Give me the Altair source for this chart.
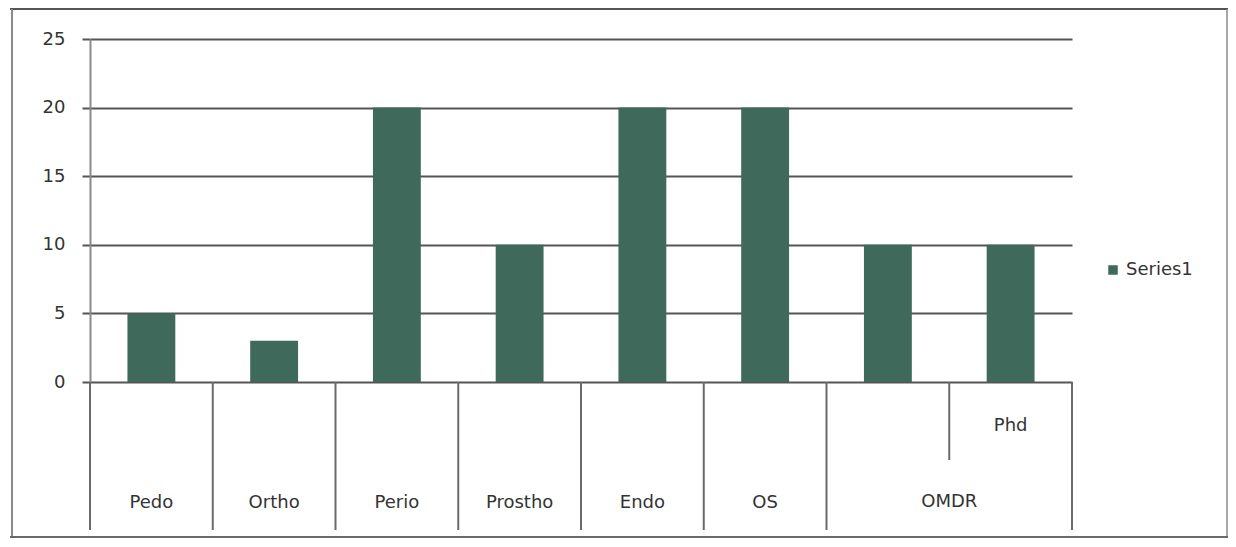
import altair as alt
import pandas as pd

# ---- data -----------------------------------------------------------------
categories = ["Pedo", "Ortho", "Perio", "Prostho", "Endo", "OS", "OMDR", "Phd"]
values = [5, 3, 20, 10, 20, 20, 10, 10]
series_name = "Series1"
inner_labels = ["Pedo", "Ortho", "Perio", "Prostho", "Endo", "OS", "", "Phd"]
group_label = "OMDR"
group_members = ["OMDR", "Phd"]
y_ticks = [0, 5, 10, 15, 20, 25]

df = pd.DataFrame({"cat": categories, "value": values, "series": [series_name] * len(categories)})

# ---- layout ---------------------------------------------------------------
W, H = 982, 343
FONT = "DejaVu Sans"
FS = 18
TXT = "#333333"
BAR = "#3f6a5b"
LINE = "#6a6a6a"
GRID = "#555555"

x_scale = alt.Scale(domain=categories, paddingInner=0, paddingOuter=0)

bars = alt.Chart(df).mark_bar(width=alt.RelativeBandSize(0.39)).encode(
    x=alt.X("cat:N", scale=x_scale, axis=None, sort=categories),
    y=alt.Y(
        "value:Q",
        scale=alt.Scale(domain=[0, 25], nice=False),
        axis=alt.Axis(
            values=y_ticks, title=None, grid=True, gridColor=GRID, gridWidth=2,
            tickColor=GRID, tickSize=8, tickWidth=2,
            domainColor="#8a8a8a", domainWidth=2,
            labelFont=FONT, labelFontSize=FS, labelColor=TXT, labelPadding=17,
        ),
    ),
    color=alt.Color(
        "series:N",
        scale=alt.Scale(range=[BAR]),
        legend=alt.Legend(
            title=None, orient="none", legendX=1014, legendY=222,
            symbolType="square", symbolSize=90, symbolStrokeWidth=0,
            labelFont=FONT, labelFontSize=FS, labelColor=TXT, labelOffset=4,
        ),
    ),
)

# category dividers (multi-level axis)
single_cats = [c for c in categories if c not in group_members[1:]]
sub_cats = group_members[1:]
div_full = alt.Chart(pd.DataFrame({"cat": single_cats})).mark_rule(color=LINE, strokeWidth=2).encode(
    x=alt.X("cat:N", scale=x_scale, axis=None, bandPosition=0),
    y=alt.value(H), y2=alt.value(H + 148),
)
div_short = alt.Chart(pd.DataFrame({"cat": sub_cats})).mark_rule(color=LINE, strokeWidth=2).encode(
    x=alt.X("cat:N", scale=x_scale, axis=None, bandPosition=0),
    y=alt.value(H), y2=alt.value(H + 78),
)
div_end = alt.Chart(pd.DataFrame({"cat": [categories[-1]]})).mark_rule(color=LINE, strokeWidth=2).encode(
    x=alt.X("cat:N", scale=x_scale, axis=None, bandPosition=1),
    y=alt.value(H), y2=alt.value(H + 148),
)

lab_df = pd.DataFrame({"cat": categories, "label": inner_labels})
single_lab = lab_df[~lab_df["cat"].isin(group_members)]
sub_lab = lab_df[lab_df["cat"].isin(group_members) & (lab_df["label"] != "")]

text_single = alt.Chart(single_lab).mark_text(font=FONT, fontSize=FS, color=TXT, baseline="middle").encode(
    x=alt.X("cat:N", scale=x_scale, axis=None), y=alt.value(H + 121), text="label:N",
)
text_sub = alt.Chart(sub_lab).mark_text(font=FONT, fontSize=FS, color=TXT, baseline="middle").encode(
    x=alt.X("cat:N", scale=x_scale, axis=None), y=alt.value(H + 44), text="label:N",
)
text_group = alt.Chart(pd.DataFrame({"cat": [group_members[1]], "label": [group_label]})).mark_text(
    font=FONT, fontSize=FS, color=TXT, baseline="middle"
).encode(
    x=alt.X("cat:N", scale=x_scale, axis=None, bandPosition=0), y=alt.value(H + 120), text="label:N",
)

# outer frame (decoration)
frame_df = pd.DataFrame({"k": [0]})
frame_top = alt.Chart(frame_df).mark_rule(color="#555555", strokeWidth=2).encode(
    x=alt.value(-80), x2=alt.value(1138), y=alt.value(-30))
frame_left = alt.Chart(frame_df).mark_rule(color="#8a8a8a", strokeWidth=2).encode(
    x=alt.value(-78), y=alt.value(-30), y2=alt.value(498))
frame_right = alt.Chart(frame_df).mark_rule(color="#8a8a8a", strokeWidth=1.5).encode(
    x=alt.value(1137), y=alt.value(-30), y2=alt.value(498))
frame_bottom = alt.Chart(frame_df).mark_rule(color="#6a6a6a", strokeWidth=2).encode(
    x=alt.value(-80), x2=alt.value(1138), y=alt.value(498))

chart = alt.layer(
    frame_top, frame_left, frame_right, frame_bottom,
    bars, div_full, div_short, div_end, text_single, text_sub, text_group,
).properties(
    width=W, height=H,
    padding={"left": 82, "top": 31, "right": 156, "bottom": 157},
    autosize=alt.AutoSizeParams(type="none"),
    background="white",
).configure_view(stroke=None)

chart.save("out.html", embed_options={"renderer": "svg", "actions": False})
